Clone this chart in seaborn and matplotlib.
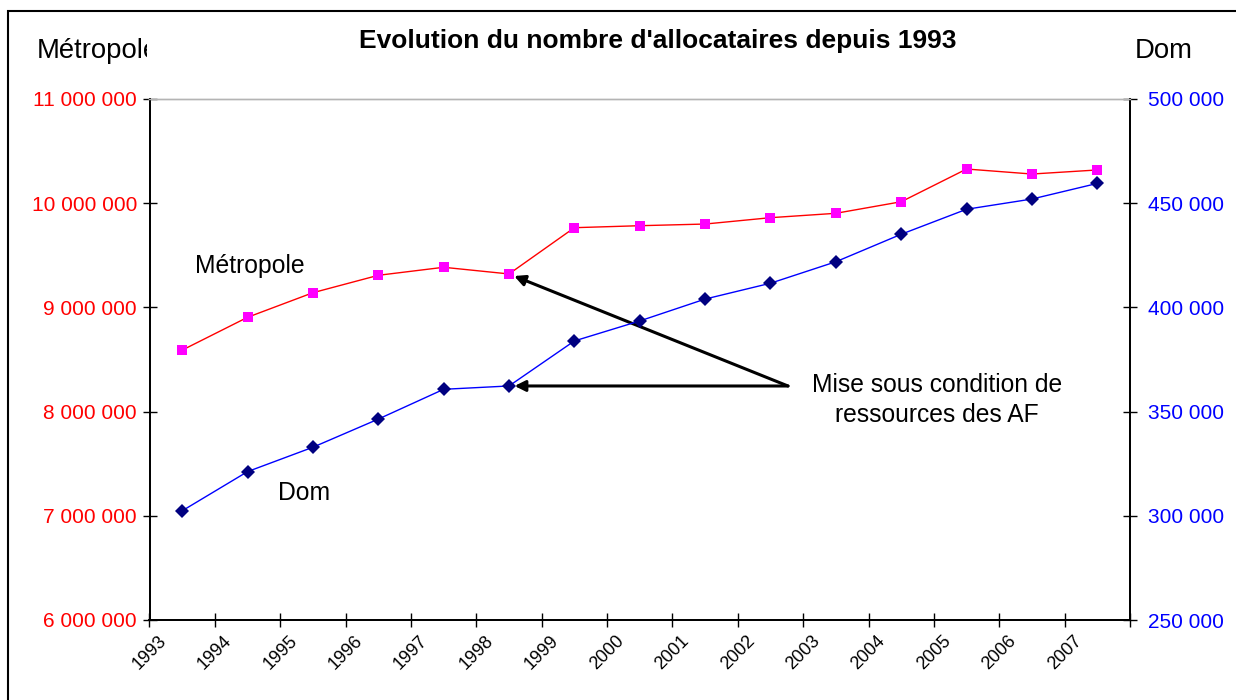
import matplotlib
matplotlib.use("Agg")
import matplotlib.pyplot as plt
import matplotlib.ticker as mticker
from matplotlib.patches import Rectangle
from matplotlib.transforms import Bbox, TransformedBbox
import seaborn as sns
import pandas as pd

# data
years = [1993, 1994, 1995, 1996, 1997, 1998, 1999, 2000,
         2001, 2002, 2003, 2004, 2005, 2006, 2007]
metropole = [8590000, 8905000, 9141000, 9308000, 9385000, 9321000, 9765000, 9784000,
             9800000, 9861000, 9903000, 10014000, 10328000, 10280000, 10319000]
dom = [302400, 321200, 332900, 346400, 360700, 362300, 383900, 393500,
       404000, 411600, 421900, 435100, 447100, 452000, 459500]
tick_years = years + [2008]
tick_labels = [str(y) for y in years] + [""]

df = pd.DataFrame({"annee": years, "metropole": metropole, "dom": dom})
df["x"] = df["annee"] + 0.5  # points sit in the middle of each year's slot

sns.set_style("white")
plt.rcParams["font.family"] = ["Liberation Sans", "DejaVu Sans"]
plt.rcParams["text.color"] = "black"
plt.rcParams["xtick.color"] = "black"
plt.rcParams["ytick.color"] = "black"

fig = plt.figure(figsize=(12.36, 7), dpi=100)
ax = fig.add_axes([149.5 / 1236, 1 - 620 / 700, (1130 - 149.5) / 1236, 521 / 700])
ax2 = ax.twinx()

sns.lineplot(data=df, x="x", y="metropole", ax=ax, color="#FF0000", lw=1.0,
             marker="s", markersize=7, markerfacecolor="#FF00FF",
             markeredgecolor="#FF00FF", markeredgewidth=0)
sns.lineplot(data=df, x="x", y="dom", ax=ax2, color="#0000FF", lw=1.0,
             marker="D", markersize=7, markerfacecolor="#000080",
             markeredgecolor="#000080", markeredgewidth=0)

ax.set_xlim(1993, 2008)
ax.set_ylim(6000000, 11000000)
ax2.set_ylim(250000, 500000)
ax.set_xticks(tick_years)
ax.set_xticklabels(tick_labels, rotation=45, ha="center", fontsize=13)
ax.set_yticks(range(6000000, 11000001, 1000000))
ax2.set_yticks(range(250000, 500001, 50000))
fmt = mticker.FuncFormatter(lambda v, p: f"{v:,.0f}".replace(",", " "))
ax.yaxis.set_major_formatter(fmt)
ax2.yaxis.set_major_formatter(fmt)
ax.set_xlabel("")
ax.set_ylabel("")
ax2.set_ylabel("")

ax.tick_params(axis="y", colors="black", labelcolor="#FF0000", labelsize=15,
               direction="inout", length=10, width=1, pad=4, left=True)
ax2.tick_params(axis="y", colors="black", labelcolor="#0000FF", labelsize=15,
                direction="inout", length=10, width=1, pad=8, right=True)
ax.tick_params(axis="x", colors="black", direction="inout", length=10, width=1,
               pad=4, bottom=True)
ax.grid(False)
ax2.grid(False)
for a in (ax, ax2):
    for s in ("left", "right", "bottom"):
        a.spines[s].set_color("black")
        a.spines[s].set_linewidth(1.3)
    a.spines["top"].set_color("#B4B4B4")
    a.spines["top"].set_linewidth(1)

# series labels inside the plot
ax.text((195 - 149.5) / 980.5, (620 - 273) / 521, "Métropole", transform=ax.transAxes,
        fontsize=17.8, va="baseline", ha="left")
ax.text((278 - 149.5) / 980.5, (620 - 500) / 521, "Dom", transform=ax.transAxes,
        fontsize=17.8, va="baseline", ha="left")

# annotation with two arrows
ax.text((937 - 149.5) / 980.5, (620 - 422) / 521,
        "Mise sous condition de\nressources des AF", transform=ax.transAxes,
        fontsize=17.7, ha="center", va="baseline", multialignment="center",
        linespacing=1.3)
tail = ((788 - 149.5) / 980.5, (620 - 386) / 521)
arrow = dict(arrowstyle="-|>", color="black", lw=2.2, mutation_scale=16,
             shrinkA=0, shrinkB=4)
ax.annotate("", xy=(df["x"][5], df["metropole"][5]), xycoords=ax.transData,
            xytext=tail, textcoords="axes fraction", arrowprops=arrow)
ax.annotate("", xy=(df["x"][5], df["dom"][5]), xycoords=ax2.transData,
            xytext=tail, textcoords="axes fraction", arrowprops=arrow)

# title and axis names
fig.text(657.5 / 1236, 1 - 48 / 700, "Evolution du nombre d'allocataires depuis 1993",
         fontsize=19, fontweight="bold", ha="center", va="baseline")
t = fig.text(37 / 1236, 1 - 58 / 700, "Métropole", fontsize=19.8, ha="left", va="baseline")
t.set_clip_box(TransformedBbox(Bbox([[0, 0], [147 / 1236, 1]]), fig.transFigure))
t.set_clip_on(True)
fig.text(1135 / 1236, 1 - 58 / 700, "Dom", fontsize=19.8, ha="left", va="baseline")

# frame around the chart area
fig.patches.append(Rectangle((8 / 1236, -0.1), 1.2, 1.1 - 11 / 700, transform=fig.transFigure,
                             fill=False, edgecolor="black", lw=1.5))

fig.savefig("out.png", dpi=100)
